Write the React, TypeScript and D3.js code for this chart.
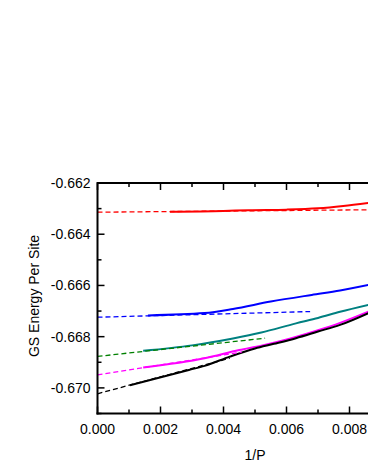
import React from "react";
import * as d3 from "d3";

const xTicks = [0, 0.002, 0.004, 0.006, 0.008, 0.01];
const xLabelTicks = [0, 0.002, 0.004, 0.006, 0.008];
const xMinorTicks = [0.001, 0.003, 0.005, 0.007, 0.009];
const yTicks = [-0.662, -0.664, -0.666, -0.668, -0.67];
const yMinorTicks = [-0.663, -0.665, -0.667, -0.669, -0.671];

const redX = [0.0023, 0.004, 0.0048, 0.006, 0.007, 0.0078, 0.0086];
const redY = [-0.66312, -0.66309, -0.66306, -0.66304, -0.66299, -0.6629, -0.66278];
const redFitX = [0, 0.01];
const redFitY = [-0.66314, -0.66303];

const blueX = [0.0016, 0.0034, 0.0043, 0.0055, 0.0068, 0.0077, 0.0086];
const blueY = [-0.66717, -0.66708, -0.66692, -0.66663, -0.66637, -0.6662, -0.66598];
const blueFitX = [0, 0.00675];
const blueFitY = [-0.66724, -0.66702];

const tealX = [0.00145, 0.003, 0.0043, 0.0052, 0.0063, 0.007, 0.0077, 0.0086];
const tealY = [-0.66855, -0.66834, -0.66807, -0.66784, -0.66748, -0.66727, -0.66703, -0.66676];
const greenFitX = [0, 0.00532];
const greenFitY = [-0.66877, -0.66806];

const magentaX = [0.00145, 0.0034, 0.0045, 0.0052, 0.0061, 0.007, 0.0077, 0.0086];
const magentaY = [-0.6692, -0.66884, -0.66852, -0.66835, -0.66808, -0.66775, -0.66746, -0.66702];
const magentaFitX = [0, 0.00458];
const magentaFitY = [-0.66949, -0.6686];

const blackX = [0.00103, 0.0029, 0.0034, 0.0042, 0.005, 0.0056, 0.0063, 0.007, 0.0077, 0.0086];
const blackY = [-0.6699, -0.6693, -0.66914, -0.66878, -0.66846, -0.66828, -0.66806, -0.6678, -0.66754, -0.66708];
const blackFitX = [0, 0.0042];
const blackFitY = [-0.67023, -0.66884];

const W = 368;
const H = 476;
const left = 97.5;
const top = 183;
const bottom = 413.5;

export default function App() {
  const x = d3.scaleLinear().domain([0, 0.01]).range([left, left + 315]);
  const y = d3.scaleLinear().domain([-0.671, -0.662]).range([bottom, top]);

  const solid = d3
    .line<[number, number]>()
    .x((d) => x(d[0]))
    .y((d) => y(d[1]))
    .curve(d3.curveMonotoneX);
  const straight = d3
    .line<[number, number]>()
    .x((d) => x(d[0]))
    .y((d) => y(d[1]));

  const zip = (a: number[], b: number[]) => a.map((v, i) => [v, b[i]] as [number, number]);

  const solids = [
    { xs: redX, ys: redY, c: "#ff0000" },
    { xs: blueX, ys: blueY, c: "#0000ff" },
    { xs: tealX, ys: tealY, c: "#008080" },
    { xs: magentaX, ys: magentaY, c: "#ff00ff" },
    { xs: blackX, ys: blackY, c: "#000000" },
  ];
  const fits = [
    { xs: redFitX, ys: redFitY, c: "#ff0000" },
    { xs: blueFitX, ys: blueFitY, c: "#0000ff" },
    { xs: greenFitX, ys: greenFitY, c: "#008000" },
    { xs: magentaFitX, ys: magentaFitY, c: "#ff00ff" },
    { xs: blackFitX, ys: blackFitY, c: "#000000" },
  ];

  const font = "'Liberation Sans', Arial, sans-serif";

  return (
    <svg
      width={W}
      height={H}
      style={{ position: "absolute", left: 0, top: 0, background: "#fff" }}
      fontFamily={font}
    >
      <defs>
        <clipPath id="plot">
          <rect x={left} y={top} width={W - left} height={bottom - top} />
        </clipPath>
      </defs>
      <g clipPath="url(#plot)">
        {solids.map((s, i) => (
          <path key={"s" + i} d={solid(zip(s.xs, s.ys)) || ""} fill="none" stroke={s.c} strokeWidth={2} />
        ))}
        {fits.map((s, i) => (
          <path
            key={"f" + i}
            d={straight(zip(s.xs, s.ys)) || ""}
            fill="none"
            stroke={s.c}
            strokeWidth={1.3}
            strokeDasharray="5,3"
          />
        ))}
      </g>
      <line x1={left} x2={W} y1={top} y2={top} stroke="#000" strokeWidth={2} />
      <line x1={left - 1} x2={W} y1={bottom} y2={bottom} stroke="#000" strokeWidth={2} />
      <line x1={left} x2={left} y1={top - 1} y2={bottom + 1} stroke="#000" strokeWidth={2} />
      {xTicks.map((t) => (
        <g key={"xt" + t}>
          <line x1={x(t)} x2={x(t)} y1={bottom} y2={bottom - 7} stroke="#000" strokeWidth={1.5} />
          <line x1={x(t)} x2={x(t)} y1={top} y2={top + 7} stroke="#000" strokeWidth={1.5} />
        </g>
      ))}
      {xLabelTicks.map((t) => (
        <text key={"xl" + t} x={x(t)} y={433.5} fontSize={14} textAnchor="middle" fill="#000">
          {d3.format(".3f")(t)}
        </text>
      ))}
      {xMinorTicks.map((t) => (
        <g key={"xm" + t}>
          <line x1={x(t)} x2={x(t)} y1={bottom} y2={bottom - 4} stroke="#000" strokeWidth={1.5} />
          <line x1={x(t)} x2={x(t)} y1={top} y2={top + 4} stroke="#000" strokeWidth={1.5} />
        </g>
      ))}
      {yTicks.map((t) => (
        <g key={"yt" + t}>
          <line x1={left} x2={left + 7} y1={y(t)} y2={y(t)} stroke="#000" strokeWidth={1.5} />
          <text x={90.5} y={y(t) + 5} fontSize={14} textAnchor="end" fill="#000">
            {d3.format(".3f")(t).replace("−", "-")}
          </text>
        </g>
      ))}
      {yMinorTicks.map((t) => (
        <line key={"ym" + t} x1={left} x2={left + 4} y1={y(t)} y2={y(t)} stroke="#000" strokeWidth={1.5} />
      ))}
      <text x={255} y={460} fontSize={14} textAnchor="middle" fill="#000">
        1/P
      </text>
      <text transform={`translate(39,296) rotate(-90)`} fontSize={14} textAnchor="middle" fill="#000">
        GS Energy Per Site
      </text>
    </svg>
  );
}
